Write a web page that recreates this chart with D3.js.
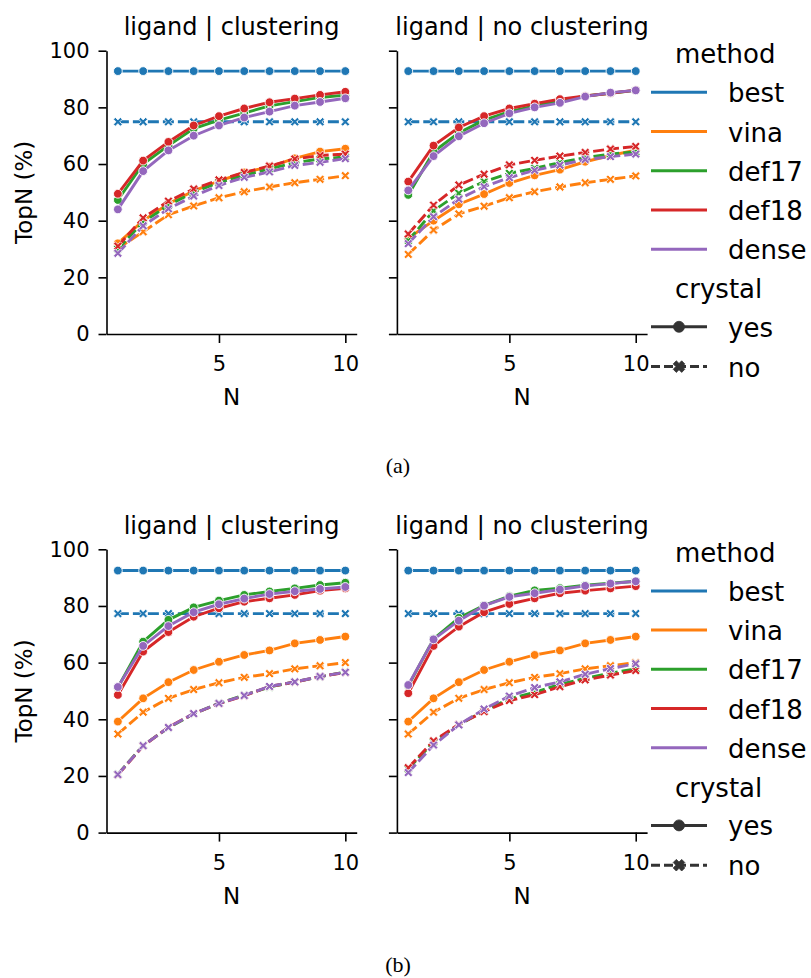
<!DOCTYPE html>
<html>
<head>
<meta charset="utf-8">
<script src="https://cdn.jsdelivr.net/npm/d3@7"></script>
<style>
  body { margin: 0; background: #fff; }
  svg { display: block; }
  text { font-family: "DejaVu Sans", sans-serif; fill: #000; }
</style>
</head>
<body>
<script>
// ---- data -------------------------------------------------------------
const nValues = [1, 2, 3, 4, 5, 6, 7, 8, 9, 10];
const methods = ["best", "vina", "def17", "def18", "dense"];
const crystalLevels = ["yes", "no"];
const panelTitles = ["ligand | clustering", "ligand | no clustering"];
const yTicks = [0, 20, 40, 60, 80, 100];
const xTicks = [5, 10];
const captions = ["(a)", "(b)"];
const methodColors = ["#1f77b4", "#ff7f0e", "#2ca02c", "#d62728", "#9467bd"];

// Rows follow `methods`; each row is TopN (%) for N = 1..10.
// (a) ligand | clustering
const aClusterYes = [
  [92.8, 92.8, 92.8, 92.8, 92.8, 92.8, 92.8, 92.8, 92.8, 92.8],
  [32.0, 40.0, 46.0, 50.5, 54.0, 57.0, 59.0, 62.0, 64.4, 65.4],
  [47.3, 60.0, 66.5, 72.5, 75.5, 78.0, 80.5, 82.0, 83.5, 84.3],
  [49.5, 61.2, 67.8, 73.6, 76.9, 79.6, 81.8, 83.1, 84.4, 85.5],
  [44.0, 57.5, 64.8, 70.0, 73.6, 76.4, 78.5, 80.6, 81.9, 83.2]
];
const aClusterNo = [
  [74.9, 74.9, 74.9, 74.9, 74.9, 74.9, 74.9, 74.9, 74.9, 74.9],
  [30.2, 36.1, 42.1, 45.2, 48.1, 50.2, 51.9, 53.4, 54.6, 55.9],
  [30.0, 39.5, 45.5, 50.0, 53.5, 56.0, 58.3, 60.5, 61.8, 62.5],
  [31.0, 41.0, 46.9, 51.2, 54.4, 57.0, 59.3, 61.8, 63.0, 63.5],
  [28.5, 38.2, 44.2, 48.7, 52.4, 55.3, 57.2, 59.5, 60.6, 61.9]
];
// (a) ligand | no clustering
const aNoClusterYes = [
  [92.8, 92.8, 92.8, 92.8, 92.8, 92.8, 92.8, 92.8, 92.8, 92.8],
  [33.8, 40.0, 45.8, 49.4, 53.3, 56.0, 58.0, 60.8, 63.0, 64.9],
  [49.1, 64.3, 71.0, 75.5, 78.5, 80.5, 82.3, 84.0, 85.0, 86.0],
  [53.8, 66.5, 72.9, 76.9, 79.6, 81.3, 82.9, 84.0, 85.0, 86.1],
  [50.7, 62.8, 69.8, 74.4, 77.9, 80.0, 81.6, 83.8, 85.2, 86.0]
];
const aNoClusterNo = [
  [74.9, 74.9, 74.9, 74.9, 74.9, 74.9, 74.9, 74.9, 74.9, 74.9],
  [28.1, 36.7, 42.4, 45.1, 48.1, 50.2, 51.9, 53.4, 54.6, 55.8],
  [33.0, 43.5, 49.7, 53.8, 56.7, 58.5, 60.5, 62.3, 63.5, 64.3],
  [35.3, 45.5, 52.6, 56.4, 59.7, 61.3, 62.8, 64.1, 65.3, 66.2],
  [31.9, 41.4, 47.6, 52.0, 55.2, 57.8, 59.6, 61.6, 62.6, 63.5]
];
// (b) ligand | clustering
const bClusterYes = [
  [92.5, 92.5, 92.5, 92.5, 92.5, 92.5, 92.5, 92.5, 92.5, 92.5],
  [39.2, 47.4, 53.1, 57.4, 60.3, 62.7, 64.3, 66.8, 68.0, 69.2],
  [51.2, 67.4, 75.1, 79.5, 81.9, 83.9, 85.1, 86.2, 87.4, 88.2],
  [48.6, 63.9, 70.8, 76.2, 79.2, 81.5, 82.7, 83.9, 85.4, 86.2],
  [51.4, 65.9, 72.9, 77.8, 80.6, 82.6, 84.2, 85.2, 86.0, 86.7]
];
const bClusterNo = [
  [77.3, 77.3, 77.3, 77.3, 77.3, 77.3, 77.3, 77.3, 77.3, 77.3],
  [34.8, 42.5, 47.4, 50.5, 52.9, 54.8, 56.1, 57.8, 58.9, 60.0],
  [20.6, 30.8, 37.0, 41.9, 45.7, 48.5, 51.4, 53.2, 55.0, 56.7],
  [20.4, 30.6, 37.2, 42.0, 45.5, 48.3, 51.6, 53.1, 55.1, 56.5],
  [20.5, 30.7, 37.1, 42.0, 45.6, 48.4, 51.6, 53.2, 55.1, 56.6]
];
// (b) ligand | no clustering
const bNoClusterYes = [
  [92.5, 92.5, 92.5, 92.5, 92.5, 92.5, 92.5, 92.5, 92.5, 92.5],
  [39.2, 47.4, 53.1, 57.4, 60.3, 62.7, 64.3, 66.8, 68.0, 69.2],
  [51.8, 68.4, 75.8, 80.2, 83.5, 85.5, 86.3, 87.3, 88.0, 88.7],
  [49.2, 65.9, 72.7, 77.8, 80.7, 82.7, 84.5, 85.4, 86.2, 87.0],
  [52.1, 68.2, 74.8, 80.1, 83.2, 84.5, 85.8, 87.1, 87.9, 88.7]
];
const bNoClusterNo = [
  [77.3, 77.3, 77.3, 77.3, 77.3, 77.3, 77.3, 77.3, 77.3, 77.3],
  [34.8, 42.5, 47.4, 50.5, 52.9, 54.8, 56.1, 57.8, 58.9, 60.0],
  [22.5, 32.0, 38.0, 43.0, 47.2, 49.5, 52.3, 54.5, 56.3, 57.8],
  [22.9, 32.4, 38.2, 42.7, 46.6, 48.7, 51.5, 53.9, 55.6, 57.2],
  [21.2, 30.9, 38.0, 43.6, 48.2, 51.2, 53.2, 55.9, 57.9, 59.6]
];

const figures = [
  { caption: captions[0], panels: [[aClusterYes, aClusterNo], [aNoClusterYes, aNoClusterNo]] },
  { caption: captions[1], panels: [[bClusterYes, bClusterNo], [bNoClusterYes, bNoClusterNo]] }
];

// ---- layout -----------------------------------------------------------
const W = 811, H = 978;
const figOffset = [0, 498.6];
const plotTop = 50.7, plotBottom = 334;
const panelX = [[106.5, 356.7], [396.9, 647.1]];
const lineW = 2.9;
const dashNo = "11,4";

const svg = d3.select("body").append("svg")
  .attr("width", W).attr("height", H);

// filled "X" marker path centred on 0,0
function xMarkerPath(a, w) {
  const pts = [[w, a], [w, w], [a, w], [a, -w], [w, -w], [w, -a],
               [-w, -a], [-w, -w], [-a, -w], [-a, w], [-w, w], [-w, a]];
  const c = Math.SQRT1_2;
  return "M" + pts.map(([x, y]) => [(x - y) * c, (x + y) * c].map(v => v.toFixed(2)).join(","))
    .join("L") + "Z";
}

figures.forEach((fig, fi) => {
  const g = svg.append("g").attr("transform", `translate(0,${figOffset[fi]})`);
  const y = d3.scaleLinear().domain([0, 100]).range([plotBottom, plotTop]);

  fig.panels.forEach((series, pi) => {
    const x = d3.scaleLinear().domain([0.55, 10.45]).range(panelX[pi]);
    const pg = g.append("g");

    // facet title
    pg.append("text")
      .attr("x", (panelX[pi][0] + panelX[pi][1]) / 2).attr("y", 35)
      .attr("text-anchor", "middle").style("font-size", "24px")
      .text(panelTitles[pi]);

    // lines + markers: hue outer, style inner
    methods.forEach((m, mi) => {
      crystalLevels.forEach((c, ci) => {
        const vals = series[ci][mi];
        const pts = nValues.map((n, k) => [x(n), y(vals[k])]);
        pg.append("path")
          .attr("d", d3.line()(pts))
          .attr("fill", "none")
          .attr("stroke", methodColors[mi])
          .attr("stroke-width", lineW)
          .attr("stroke-dasharray", ci === 0 ? null : dashNo);
        const mk = pg.append("g");
        if (ci === 0) {
          mk.selectAll("circle").data(pts).join("circle")
            .attr("cx", d => d[0]).attr("cy", d => d[1]).attr("r", 4.4)
            .attr("fill", methodColors[mi]).attr("stroke", "#fff").attr("stroke-width", 0.9);
        } else {
          mk.selectAll("path").data(pts).join("path")
            .attr("transform", d => `translate(${d[0]},${d[1]})`)
            .attr("d", xMarkerPath(4.9, 1.35))
            .attr("fill", methodColors[mi]).attr("stroke", "#fff").attr("stroke-width", 0.8);
        }
      });
    });

    // axes
    const yAxis = pg.append("g").attr("transform", `translate(${panelX[pi][0]},0)`)
      .call(d3.axisLeft(y).tickValues(yTicks).tickSize(8).tickSizeOuter(0).tickPadding(9));
    if (pi > 0) yAxis.selectAll(".tick text").remove();
    const xAxis = pg.append("g").attr("transform", `translate(0,${plotBottom})`)
      .call(d3.axisBottom(x).tickValues(xTicks).tickSize(9).tickSizeOuter(0).tickPadding(13));
    [yAxis, xAxis].forEach(ax => {
      ax.select(".domain").attr("stroke", "#000").attr("stroke-width", 1.6);
      ax.selectAll(".tick line").attr("stroke", "#000").attr("stroke-width", 1.6);
      ax.selectAll(".tick text").style("font-size", "21px")
        .style("font-family", "DejaVu Sans, sans-serif").attr("fill", "#000");
    });

    // axis labels
    pg.append("text")
      .attr("x", (panelX[pi][0] + panelX[pi][1]) / 2).attr("y", 405)
      .attr("text-anchor", "middle").style("font-size", "23px").text("N");
    if (pi === 0) {
      pg.append("text")
        .attr("transform", `translate(32,${(plotTop + plotBottom) / 2}) rotate(-90)`)
        .attr("text-anchor", "middle").style("font-size", "23px").text("TopN (%)");
    }
  });

  // legend
  const lg = g.append("g");
  const rowY = [92.3, 131.5, 170.7, 210, 249.2];
  const lx0 = 651, lx1 = 707, tx = 728, titleX = 675, fs = "26px";
  lg.append("text").attr("x", titleX).attr("y", 63).style("font-size", fs).text("method");
  methods.forEach((m, mi) => {
    lg.append("line").attr("x1", lx0).attr("x2", lx1).attr("y1", rowY[mi]).attr("y2", rowY[mi])
      .attr("stroke", methodColors[mi]).attr("stroke-width", 3);
    lg.append("text").attr("x", tx).attr("y", rowY[mi] + 10).style("font-size", fs).text(m);
  });
  lg.append("text").attr("x", titleX).attr("y", 298).style("font-size", fs).text("crystal");
  const styleY = [326.8, 366.6];
  crystalLevels.forEach((c, ci) => {
    const yy = styleY[ci];
    lg.append("line").attr("x1", lx0).attr("x2", lx1).attr("y1", yy).attr("y2", yy)
      .attr("stroke", "#333").attr("stroke-width", 3)
      .attr("stroke-dasharray", ci === 0 ? null : "9,4");
    if (ci === 0) {
      lg.append("circle").attr("cx", (lx0 + lx1) / 2).attr("cy", yy).attr("r", 5.5)
        .attr("fill", "#333").attr("stroke", "#333").attr("stroke-width", 0.8);
    } else {
      lg.append("path").attr("transform", `translate(${(lx0 + lx1) / 2},${yy})`)
        .attr("d", xMarkerPath(6, 2.2)).attr("fill", "#333").attr("stroke", "#333").attr("stroke-width", 0.8);
    }
    lg.append("text").attr("x", tx).attr("y", yy + 10).style("font-size", fs).text(c);
  });

  // caption
  g.append("text").attr("x", 398).attr("y", 473).attr("text-anchor", "middle")
    .style("font-family", "\"Liberation Serif\", serif").style("font-size", "22px")
    .text(fig.caption);
});
</script>
</body>
</html>
